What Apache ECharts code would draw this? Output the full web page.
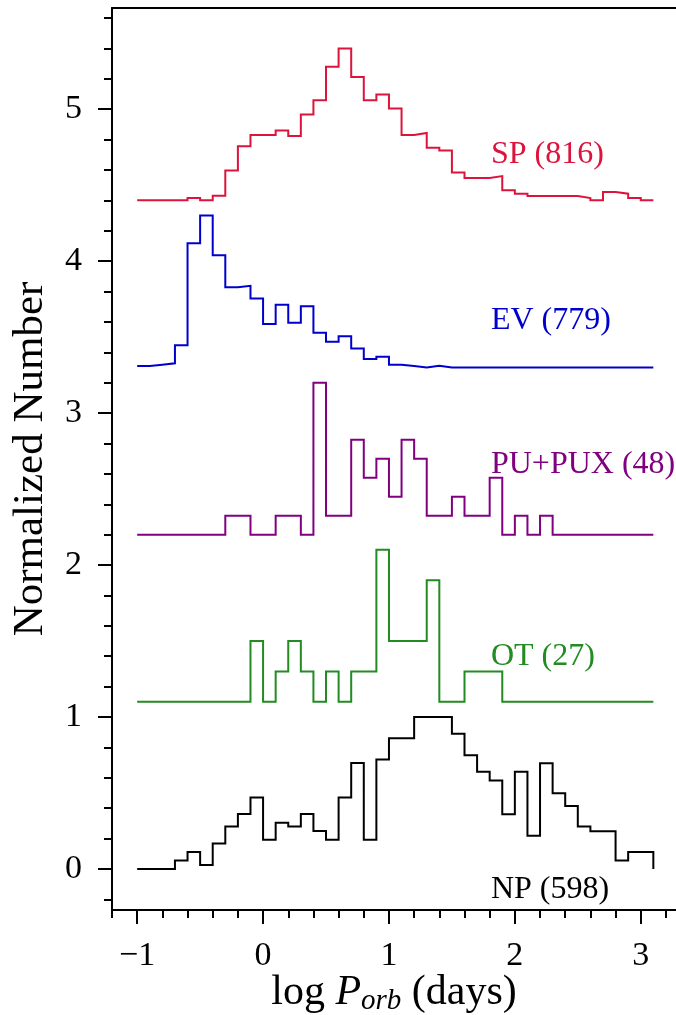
<!DOCTYPE html>
<html>
<head>
<meta charset="utf-8">
<script src="https://cdn.jsdelivr.net/npm/echarts@6/dist/echarts.min.js"></script>
<style>
  html, body { margin: 0; padding: 0; background: #ffffff; }
  #chart { width: 676px; height: 1015px; }
</style>
</head>
<body>
<div id="chart"></div>
<script>
// Histogram bin edges in log P_orb (days)
const binEdges = [
  -1.0, -0.9, -0.8, -0.7, -0.6, -0.5, -0.4, -0.3, -0.2, -0.1,
   0.0,  0.1,  0.2,  0.3,  0.4,  0.5,  0.6,  0.7,  0.8,  0.9,
   1.0,  1.1,  1.2,  1.3,  1.4,  1.5,  1.6,  1.7,  1.8,  1.9,
   2.0,  2.1,  2.2,  2.3,  2.4,  2.5,  2.6,  2.7,  2.8,  2.9,
   3.0,  3.1
];

// Normalized counts per bin (peak = 1) for each class
const spValues = [
  0, 0, 0, 0, 0.015, 0, 0.03, 0.197, 0.357, 0.431,
  0.431, 0.46, 0.423, 0.565, 0.659, 0.88, 1.0, 0.8125, 0.659, 0.696,
  0.604, 0.431, 0.444, 0.346, 0.328, 0.184, 0.147, 0.147, 0.16, 0.066,
  0.044, 0.028, 0.028, 0.028, 0.028, 0.015, 0, 0.055, 0.044, 0.015,
  0
];
const evValues = [
  0.01, 0.019, 0.0275, 0.146, 0.818, 1.0, 0.739, 0.529, 0.538, 0.455,
  0.286, 0.413, 0.295, 0.404, 0.229, 0.17, 0.205, 0.126, 0.056, 0.071,
  0.019, 0.01, 0, 0.011, 0, 0, 0, 0, 0, 0,
  0, 0, 0, 0, 0, 0, 0, 0, 0, 0,
  0
];
const puValues = [
  0, 0, 0, 0, 0, 0, 0, 0.125, 0.125, 0,
  0, 0.125, 0.125, 0, 1.0, 0.125, 0.125, 0.625, 0.375, 0.5,
  0.25, 0.625, 0.5, 0.125, 0.125, 0.25, 0.125, 0.125, 0.375, 0,
  0.125, 0, 0.125, 0, 0, 0, 0, 0, 0, 0,
  0
];
const otValues = [
  0, 0, 0, 0, 0, 0, 0, 0, 0, 0.4,
  0, 0.2, 0.4, 0.2, 0, 0.2, 0, 0.2, 0.2, 1.0,
  0.4, 0.4, 0.4, 0.8, 0, 0, 0.2, 0.2, 0.2, 0,
  0, 0, 0, 0, 0, 0, 0, 0, 0, 0,
  0
];
const npValues = [
  0, 0, 0, 0.055, 0.112, 0.026, 0.167, 0.279, 0.362, 0.471,
  0.193, 0.305, 0.279, 0.362, 0.25, 0.193, 0.471, 0.697, 0.193, 0.721,
  0.86, 0.86, 1.0, 1.0, 1.0, 0.89, 0.748, 0.64, 0.583, 0.36,
  0.64, 0.219, 0.695, 0.498, 0.414, 0.279, 0.248, 0.248, 0.055, 0.112,
  0.112
];

const classNames   = ['SP', 'EV', 'PU+PUX', 'OT', 'NP'];
const classCounts  = [816, 779, 48, 27, 598];
const classOffsets = [4.4, 3.3, 2.2, 1.1, 0];
const classValues  = [spValues, evValues, puValues, otValues, npValues];

// Tick positions
const xMajorTicks = [-1, 0, 1, 2, 3];
const xMinorTicks = [-1.2, -1.0, -0.8, -0.6, -0.4, -0.2, 0, 0.2, 0.4, 0.6, 0.8, 1.0,
  1.2, 1.4, 1.6, 1.8, 2.0, 2.2, 2.4, 2.6, 2.8, 3.0, 3.2];
const yMajorTicks = [0, 1, 2, 3, 4, 5];
const yMinorTicks = [-0.2, 0, 0.2, 0.4, 0.6, 0.8, 1.0, 1.2, 1.4, 1.6, 1.8, 2.0, 2.2, 2.4,
  2.6, 2.8, 3.0, 3.2, 3.4, 3.6, 3.8, 4.0, 4.2, 4.4, 4.6, 4.8, 5.0, 5.2, 5.4, 5.6];

const colors = ['#DC143C', '#0000CD', '#800080', '#228B22', '#000000'];
const SERIF = '"Liberation Serif", "Times New Roman", serif';
const X_MIN = -1.2, X_MAX = 3.28, Y_MIN = -0.27, Y_MAX = 5.666;

// Step outline of one histogram (left and right edge of every bin),
// lifted by its vertical offset and closed down to the baseline at the end
function stepPoints(values, offset) {
  const pts = [];
  values.forEach((v, i) => {
    pts.push([binEdges[i], offset + v]);
    pts.push([binEdges[i + 1], offset + v]);
  });
  pts.push([binEdges[values.length], offset]);
  return pts;
}

const chart = echarts.init(document.getElementById('chart'), null, { renderer: 'canvas' });

const axisLineStyle = { color: '#000', width: 2 };
const minus = v => String(v).replace('-', '\u2212');

const option = {
  animation: false,
  backgroundColor: '#ffffff',
  grid: { left: 112, right: 0, top: 8, bottom: 105, containLabel: false, outerBoundsMode: 'none' },
  xAxis: [
    {
      type: 'value', min: X_MIN, max: X_MAX, position: 'bottom',
      axisLine: { show: true, onZero: false, lineStyle: axisLineStyle },
      axisTick: { show: true, inside: false, length: 14, lineStyle: { width: 2, color: '#000' }, customValues: xMajorTicks },
      axisLabel: { show: true, customValues: xMajorTicks, formatter: minus, margin: 29,
        fontFamily: SERIF, fontSize: 34, color: '#000' },
      splitLine: { show: false },
      name: '{n|log }{i|P}{s|orb}{n| (days)}',
      nameLocation: 'middle', nameGap: 60, nameMoveOverlap: false,
      nameTextStyle: {
        fontFamily: SERIF, fontSize: 42, color: '#000',
        rich: {
          n: { fontFamily: SERIF, fontSize: 42, color: '#000' },
          i: { fontFamily: SERIF, fontSize: 42, fontStyle: 'italic', color: '#000' },
          s: { fontFamily: SERIF, fontSize: 29, fontStyle: 'italic', color: '#000', padding: [17, 0, 0, 0] }
        }
      }
    },
    {
      type: 'value', min: X_MIN, max: X_MAX, position: 'bottom',
      axisLine: { show: false, onZero: false },
      axisTick: { show: true, inside: false, length: 8, lineStyle: { width: 2, color: '#000' }, customValues: xMinorTicks },
      axisLabel: { show: false },
      splitLine: { show: false }
    },
    {
      type: 'value', min: X_MIN, max: X_MAX, position: 'top',
      axisLine: { show: true, onZero: false, lineStyle: axisLineStyle },
      axisTick: { show: false }, axisLabel: { show: false }, splitLine: { show: false }
    }
  ],
  yAxis: [
    {
      type: 'value', min: Y_MIN, max: Y_MAX, position: 'left',
      axisLine: { show: true, onZero: false, lineStyle: axisLineStyle },
      axisTick: { show: true, inside: false, length: 14, lineStyle: { width: 2, color: '#000' }, customValues: yMajorTicks },
      axisLabel: { show: true, customValues: yMajorTicks, formatter: minus, margin: 30,
        fontFamily: SERIF, fontSize: 34, color: '#000' },
      splitLine: { show: false },
      name: 'Normalized Number',
      nameLocation: 'middle', nameGap: 60, nameRotate: 90, nameMoveOverlap: false,
      nameTextStyle: { fontFamily: SERIF, fontSize: 43, color: '#000' }
    },
    {
      type: 'value', min: Y_MIN, max: Y_MAX, position: 'left',
      axisLine: { show: false, onZero: false },
      axisTick: { show: true, inside: false, length: 8, lineStyle: { width: 2, color: '#000' }, customValues: yMinorTicks },
      axisLabel: { show: false },
      splitLine: { show: false }
    }
  ],
  series: classValues.map((vals, k) => ({
    name: classNames[k],
    type: 'line',
    xAxisIndex: 0, yAxisIndex: 0,
    data: stepPoints(vals, classOffsets[k]),
    showSymbol: false, symbol: 'none',
    lineStyle: { color: colors[k], width: 2, join: 'miter' },
    itemStyle: { color: colors[k] },
    silent: true,
    z: 3
  })),
  graphic: []
};

chart.setOption(option);

// Class labels with sample sizes, placed in data coordinates
const labelAnchors = [[1.81, 4.70], [1.81, 3.61], [1.81, 2.66], [1.81, 1.40], [1.81, -0.135]];
chart.setOption({
  graphic: classNames.map((nm, k) => {
    const p = chart.convertToPixel({ gridIndex: 0 }, labelAnchors[k]);
    return {
      type: 'text', x: p[0], y: p[1], z: 10,
      style: {
        text: nm + ' (' + classCounts[k] + ')',
        fill: colors[k],
        font: '32px ' + SERIF,
        align: 'left', verticalAlign: 'middle'
      }
    };
  })
});
</script>
</body>
</html>
